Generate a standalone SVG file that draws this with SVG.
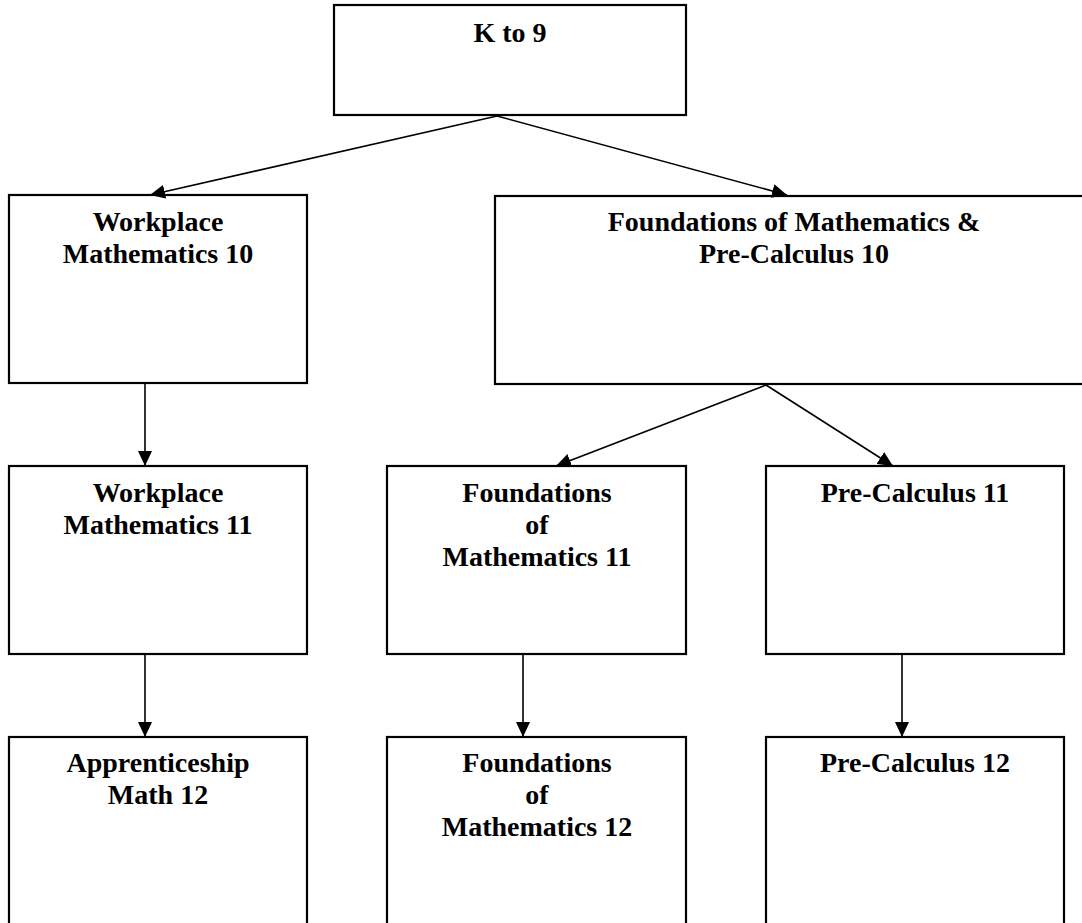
<svg xmlns="http://www.w3.org/2000/svg" width="1082" height="923" viewBox="0 0 1082 923">
<style>
.box{fill:#fff;stroke:#000;stroke-width:2.2}
.lbl{font-family:"Liberation Serif","Times New Roman",serif;font-weight:bold;font-size:28px;fill:#000;text-anchor:middle}
.con{stroke:#000;stroke-width:1.6;fill:none}
</style>
<defs>
<marker id="ah" markerUnits="userSpaceOnUse" markerWidth="16" markerHeight="14" refX="15" refY="7" orient="auto">
<path d="M0,0 L15,7 L0,14 Z" fill="#000"/>
</marker>
</defs>
<rect width="1082" height="923" fill="#fff"/>
<g id="k9"><rect class="box" x="334" y="5" width="352" height="110"/><text class="lbl" x="510" y="42">K to 9</text></g>
<g id="wp10"><rect class="box" x="9" y="195" width="298" height="188"/><text class="lbl" x="158" y="231">Workplace</text><text class="lbl" x="158" y="263">Mathematics 10</text></g>
<g id="fp10"><rect class="box" x="495" y="196" width="600" height="188"/><text class="lbl" x="794" y="231">Foundations of Mathematics &amp;</text><text class="lbl" x="794" y="263">Pre-Calculus 10</text></g>
<g id="wp11"><rect class="box" x="9" y="466" width="298" height="188"/><text class="lbl" x="158" y="502">Workplace</text><text class="lbl" x="158" y="534">Mathematics 11</text></g>
<g id="fm11"><rect class="box" x="387" y="466" width="299" height="188"/><text class="lbl" x="537" y="502">Foundations</text><text class="lbl" x="537" y="534">of</text><text class="lbl" x="537" y="566">Mathematics 11</text></g>
<g id="pc11"><rect class="box" x="766" y="466" width="298" height="188"/><text class="lbl" x="915" y="502">Pre-Calculus 11</text></g>
<g id="am12"><rect class="box" x="9" y="737" width="298" height="200"/><text class="lbl" x="158" y="772">Apprenticeship</text><text class="lbl" x="158" y="804">Math 12</text></g>
<g id="fm12"><rect class="box" x="387" y="737" width="299" height="200"/><text class="lbl" x="537" y="772">Foundations</text><text class="lbl" x="537" y="804">of</text><text class="lbl" x="537" y="836">Mathematics 12</text></g>
<g id="pc12"><rect class="box" x="766" y="737" width="298" height="200"/><text class="lbl" x="915" y="772">Pre-Calculus 12</text></g>
<g id="connectors">
<line class="con" x1="497" y1="116" x2="150" y2="195" marker-end="url(#ah)"/>
<line class="con" x1="497" y1="116" x2="787" y2="195" marker-end="url(#ah)"/>
<line class="con" x1="145" y1="384" x2="145" y2="466" marker-end="url(#ah)"/>
<line class="con" x1="766" y1="385" x2="556" y2="466" marker-end="url(#ah)"/>
<line class="con" x1="766" y1="385" x2="893" y2="466" marker-end="url(#ah)"/>
<line class="con" x1="145" y1="655" x2="145" y2="737" marker-end="url(#ah)"/>
<line class="con" x1="523" y1="655" x2="523" y2="737" marker-end="url(#ah)"/>
<line class="con" x1="902" y1="655" x2="902" y2="737" marker-end="url(#ah)"/>
</g>
</svg>
